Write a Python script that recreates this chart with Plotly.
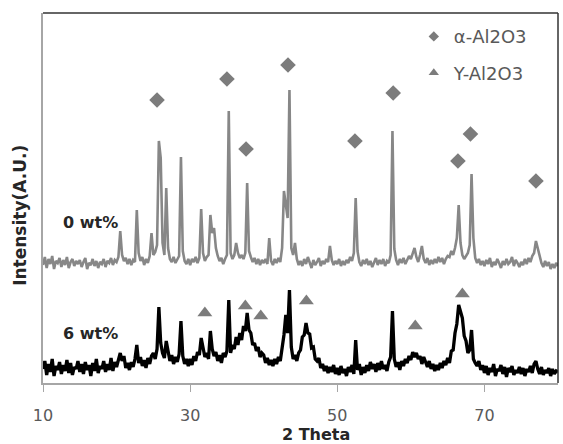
import numpy as np
import plotly.graph_objects as go

# 2-theta grid: 10.00 .. 80.00 step 0.25 (281 samples)
two_theta = [10 + 0.25 * i for i in range(281)]

# Intensity (arbitrary units), 0 wt% sample (offset upward)
int_0wt = [
    118,126,115,124,119,127,114,122,120,125,116,123,118,126,115,121,124,117,122,119,
    123,116,121,125,114,120,118,124,117,122,115,121,119,124,116,122,120,125,118,123,
    121,126,152,128,122,125,119,124,118,123,121,173,130,122,126,118,124,120,127,150,
    128,131,138,242,225,140,128,195,135,124,121,126,120,123,127,226,132,122,119,124,
    118,124,121,126,120,125,174,130,122,126,128,168,150,155,135,127,122,125,119,124,
    128,272,130,124,128,140,130,125,128,124,130,200,132,126,121,125,119,124,118,123,
    120,124,119,145,122,118,124,120,125,121,135,192,180,165,293,135,128,140,124,118,
    122,117,124,119,126,120,115,123,118,121,125,117,122,119,124,121,137,123,118,122,
    119,124,117,122,118,123,120,126,122,130,185,132,121,117,123,119,124,118,122,116,
    121,125,118,123,119,124,117,122,120,128,252,134,123,118,124,120,125,119,123,127,
    124,130,135,126,121,128,137,124,120,125,118,123,119,124,120,126,121,125,119,124,
    127,126,132,128,135,145,178,140,128,124,127,130,138,209,145,125,120,124,118,122,
    117,123,119,125,116,121,118,124,120,115,122,118,124,119,121,126,117,123,120,116,
    121,118,124,119,125,121,127,130,142,135,126,120,116,122,117,121,114,119,115,120,
    117,
]

# Intensity (arbitrary units), 6 wt% sample
int_6wt = [
    14,22,8,19,11,24,7,17,13,21,9,18,12,23,10,20,8,16,14,22,
    11,19,9,21,13,18,7,20,12,24,10,17,14,22,11,19,13,25,12,21,
    16,24,30,22,27,15,20,13,21,16,24,38,20,26,17,23,15,25,19,27,
    30,24,34,76,40,30,25,42,33,22,28,19,26,21,29,62,27,19,24,17,
    24,18,27,22,31,28,45,33,26,30,24,52,34,27,31,22,28,20,30,26,
    32,83,30,38,34,46,38,50,43,57,52,70,53,50,38,40,32,36,26,30,
    28,20,25,18,23,17,24,19,26,22,34,48,68,50,93,36,24,28,22,30,
    33,46,48,60,50,49,35,36,24,22,25,15,19,12,17,10,16,11,18,9,
    15,8,17,10,14,7,16,11,18,9,43,13,19,8,16,10,18,12,21,14,
    19,11,20,13,22,14,18,12,21,26,72,24,16,21,13,22,17,24,20,27,
    23,31,26,30,24,27,19,26,21,16,22,14,19,12,18,13,20,15,22,18,
    25,20,32,33,50,59,78,71,65,47,42,30,33,53,24,20,17,22,13,18,
    10,17,8,15,11,19,7,14,12,18,9,16,6,15,11,17,8,13,10,16,
    9,15,7,14,11,17,10,19,22,14,9,16,8,13,10,15,7,14,9,12,
    11,
]

# Phase markers (peak labels)
alpha_x = [25.5, 35.0, 37.6, 43.3, 52.4, 57.6, 66.4, 68.1, 77.0]
alpha_y = [283, 304, 234, 318, 242, 290, 222, 249, 202]
gamma_x = [32.0, 37.5, 39.6, 45.8, 60.6, 67.0]
gamma_y = [70, 77, 67, 82, 57, 89]

series_labels = ["0 wt%", "6 wt%"]
legend_labels = ["α-Al2O3", "Y-Al2O3"]
x_ticks = [10, 30, 50, 70]

GRAY_LINE = "#878787"
GRAY_MARK = "#7c7c7c"
FONT = "DejaVu Sans"

fig = go.Figure()
fig.add_trace(go.Scatter(x=two_theta, y=int_0wt, mode="lines",
                         line=dict(color=GRAY_LINE, width=2.6), showlegend=False,
                         hoverinfo="skip"))
fig.add_trace(go.Scatter(x=two_theta, y=int_6wt, mode="lines",
                         line=dict(color="#000000", width=3.3), showlegend=False,
                         hoverinfo="skip"))
fig.add_trace(go.Scatter(x=alpha_x, y=alpha_y, mode="markers",
                         marker=dict(symbol="diamond", size=12, color=GRAY_MARK),
                         showlegend=False))
fig.add_trace(go.Scatter(x=gamma_x, y=gamma_y, mode="markers",
                         marker=dict(symbol="triangle-up", size=13, color=GRAY_MARK),
                         showlegend=False))
# legend entries (small symbols like the reference)
fig.add_trace(go.Scatter(x=[None], y=[None], mode="markers", name=legend_labels[0],
                         legendgroup="a",
                         marker=dict(symbol="diamond", size=8, color=GRAY_MARK)))
fig.add_trace(go.Scatter(x=[None], y=[None], mode="markers", name=legend_labels[1],
                         legendgroup="g",
                         marker=dict(symbol="triangle-up", size=9, color=GRAY_MARK)))

fig.add_annotation(text="<b>" + series_labels[0] + "</b>", xref="paper", yref="paper",
                   x=0.035, y=0.435, xanchor="left", yanchor="middle", showarrow=False,
                   font=dict(family=FONT, size=16, color="#262626"))
fig.add_annotation(text="<b>" + series_labels[1] + "</b>", xref="paper", yref="paper",
                   x=0.035, y=0.135, xanchor="left", yanchor="middle", showarrow=False,
                   font=dict(family=FONT, size=16, color="#262626"))
fig.add_annotation(text="<b>Intensity(A.U.)</b>", xref="paper", yref="paper",
                   x=-0.045, y=0.454, xanchor="center", yanchor="middle", textangle=-90,
                   showarrow=False, font=dict(family=FONT, size=17, color="#262626"))
fig.add_annotation(text="<b>2 Theta</b>", xref="paper", yref="paper",
                   x=0.53, y=-0.138, xanchor="center", yanchor="middle",
                   showarrow=False, font=dict(family=FONT, size=16, color="#262626"))

# top and right frame
fig.add_shape(type="line", xref="paper", yref="paper", x0=0, x1=1, y0=1, y1=1,
              line=dict(color="#333333", width=1.5))
fig.add_shape(type="line", xref="paper", yref="paper", x0=1, x1=1, y0=0, y1=1,
              line=dict(color="#333333", width=1.5))

fig.update_xaxes(range=[10, 80], tickvals=x_ticks, ticks="outside", ticklen=7,
                 tickcolor="#a6a6a6", showline=True, linecolor="#a6a6a6", linewidth=1.5,
                 showgrid=False, zeroline=False, ticklabelstandoff=10,
                 tickfont=dict(family=FONT, size=16, color="#595959"))
fig.update_yaxes(range=[0, 370], showticklabels=False, ticks="", showline=True,
                 linecolor="#a6a6a6", linewidth=2, showgrid=False, zeroline=False)

fig.update_layout(
    width=563, height=444,
    margin=dict(l=43, r=5, t=13, b=61),
    paper_bgcolor="white", plot_bgcolor="white",
    showlegend=True,
    legend=dict(x=0.72, y=0.986, xanchor="left", yanchor="top",
                bgcolor="rgba(0,0,0,0)", tracegroupgap=10,
                font=dict(family=FONT, size=18, color="#595959")),
)

fig.write_html("out.html")
